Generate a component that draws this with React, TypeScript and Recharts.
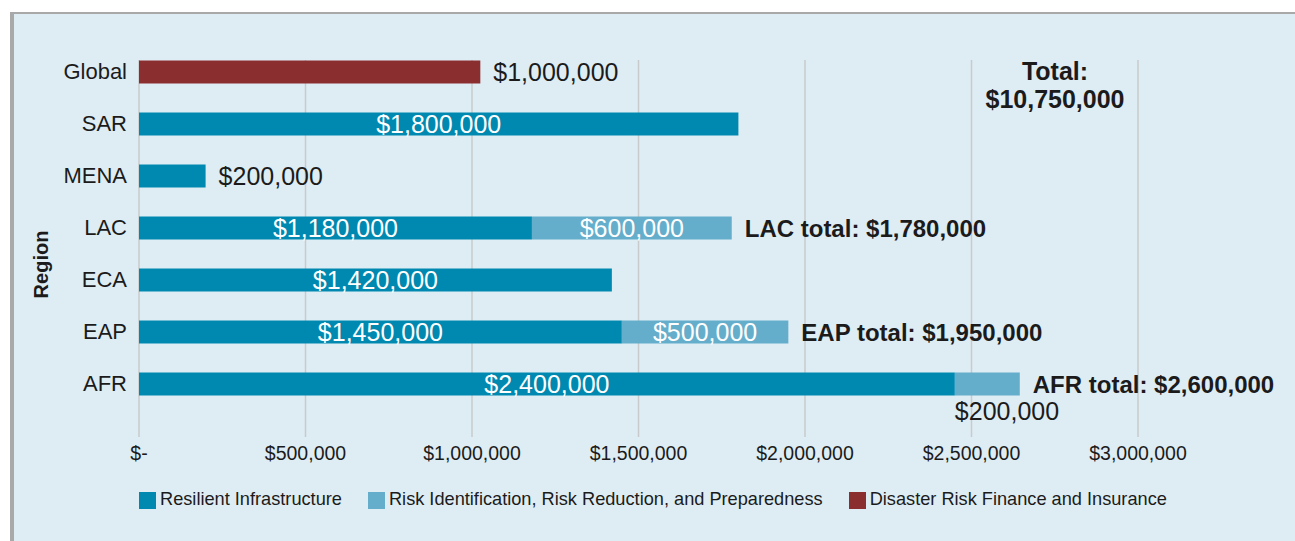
import { BarChart, Bar, XAxis, YAxis, CartesianGrid, Legend, LabelList } from "recharts";

const regions = ["Global", "SAR", "MENA", "LAC", "ECA", "EAP", "AFR"];
// bar lengths as drawn (AFR and Global bars run a little past their printed labels)
const resilient = [0, 1800000, 200000, 1180000, 1420000, 1450000, 2450000];
const riskId = [0, 0, 0, 600000, 0, 500000, 195000];
const finance = [1025000, 0, 0, 0, 0, 0, 0];

const resilientLabels = ["", "$1,800,000", "$200,000", "$1,180,000", "$1,420,000", "$1,450,000", "$2,400,000"];
const riskLabels = ["", "", "", "$600,000", "", "$500,000", "$200,000"];
const financeLabels = ["$1,000,000", "", "", "", "", "", ""];
const totalLabels = ["", "", "", "LAC total: $1,780,000", "", "EAP total: $1,950,000", "AFR total: $2,600,000"];
const grandTotal = "$10,750,000";

const seriesNames = [
  "Resilient Infrastructure",
  "Risk Identification, Risk Reduction, and Preparedness",
  "Disaster Risk Finance and Insurance",
];

const xTicks = [0, 500000, 1000000, 1500000, 2000000, 2500000, 3000000];

const RESILIENT = "#0089b0";
const RISK = "#65aecb";
const FINANCE = "#8b2e30";
const PANEL = "#deedf4";
const GRID = "#c8cacc";
const INK = "#1b1b1b";
const FONT = '"Liberation Sans", Arial, sans-serif';

const rows = regions.map((region, i) => ({
  region,
  resilient: resilient[i],
  riskId: riskId[i],
  finance: finance[i],
  riLabel: resilientLabels[i],
  riskLabel: riskLabels[i],
  financeLabel: financeLabels[i],
  totalLabel: totalLabels[i],
}));

const money = (v: number) => (v === 0 ? "$-" : "$" + v.toLocaleString("en-US"));

const box = (props: any) => props.viewBox ?? props;

// white label centred in the bar, moved to the right when the bar is too short
const InsideLabel = (props: any) => {
  const { x, y, width, height } = box(props);
  if (!props.value) return null;
  const cy = y + height / 2;
  if (width < 130) {
    return (
      <text x={x + width + 13} y={cy} dy="0.36em" fontSize={25} fill={INK}>
        {props.value}
      </text>
    );
  }
  return (
    <text x={x + width / 2} y={cy} dy="0.36em" textAnchor="middle" fontSize={25} fill="#fff">
      {props.value}
    </text>
  );
};

// short segments get their label under the bar
const RiskLabel = (props: any) => {
  const { x, y, width, height } = box(props);
  if (!props.value) return null;
  if (width < 100) {
    return (
      <text x={x} y={y + height + 15} dy="0.36em" fontSize={25} fill={INK}>
        {props.value}
      </text>
    );
  }
  return (
    <text x={x + width / 2} y={y + height / 2} dy="0.36em" textAnchor="middle" fontSize={25} fill="#fff">
      {props.value}
    </text>
  );
};

const RightLabel = (bold: boolean) => (props: any) => {
  const { x, y, width, height } = box(props);
  if (!props.value) return null;
  return (
    <text
      x={x + width + 13}
      y={y + height / 2}
      dy="0.36em"
      fontSize={bold ? 24 : 25}
      fontWeight={bold ? 700 : 400}
      fill={INK}
    >
      {props.value}
    </text>
  );
};

const RegionLabel = (props: any) => {
  const vb = props.viewBox;
  const cx = vb.x + 2;
  const cy = vb.y + vb.height / 2 + 37;
  return (
    <text
      x={cx}
      y={cy}
      transform={`rotate(-90 ${cx} ${cy})`}
      textAnchor="middle"
      dy="0.36em"
      fontSize={20}
      fontWeight={700}
      fill={INK}
    >
      Region
    </text>
  );
};

export default function App() {
  return (
    <div
      style={{
        position: "absolute",
        left: 0,
        top: 0,
        width: 1295,
        height: 541,
        background: "#fff",
        fontFamily: FONT,
        overflow: "hidden",
      }}
    >
      <div
        style={{
          position: "absolute",
          left: 10,
          top: 12,
          right: 0,
          bottom: 0,
          background: PANEL,
          borderLeft: "4px solid #a9a9a9",
          borderTop: "2px solid #a9a9a9",
        }}
      />
      <div style={{ position: "absolute", left: 0, top: 0 }}>
        <BarChart
          width={1295}
          height={541}
          data={rows}
          layout="vertical"
          margin={{ top: 45.5, right: 157, bottom: 101.5, left: 39 }}
        >
          <CartesianGrid horizontal={false} stroke={GRID} strokeWidth={1.5} y={60} height={377} />
          <XAxis
            type="number"
            domain={[0, 3000000]}
            ticks={xTicks}
            tickFormatter={money}
            axisLine={false}
            tickLine={false}
            tickSize={0}
            tickMargin={37}
            height={30}
            tick={{ fontSize: 19.5, fill: INK }}
          />
          <YAxis
            type="category"
            dataKey="region"
            width={100}
            axisLine={false}
            tickLine={false}
            tickSize={0}
            tickMargin={12}
            interval={0}
            tick={{ fontSize: 22, fill: INK }}
            label={{ content: RegionLabel }}
          />
          <Legend
            layout="horizontal"
            verticalAlign="middle"
            align="center"
            iconType="square"
            iconSize={17}
            itemSorter={(item: any) => seriesNames.indexOf(item.value)}
            wrapperStyle={{ left: 139, top: 489, width: "auto" }}
            formatter={(value: string) => (
              <span style={{ color: INK, fontSize: 18.2, marginRight: 16 }}>{value}</span>
            )}
          />
          <Bar
            dataKey="resilient"
            name={seriesNames[0]}
            stackId="a"
            fill={RESILIENT}
            barSize={23}
            isAnimationActive={false}
          >
            <LabelList dataKey="riLabel" content={InsideLabel} />
          </Bar>
          <Bar
            dataKey="riskId"
            name={seriesNames[1]}
            stackId="a"
            fill={RISK}
            barSize={23}
            isAnimationActive={false}
          >
            <LabelList dataKey="riskLabel" content={RiskLabel} />
            <LabelList dataKey="totalLabel" content={RightLabel(true)} />
          </Bar>
          <Bar
            dataKey="finance"
            name={seriesNames[2]}
            stackId="a"
            fill={FINANCE}
            barSize={23}
            isAnimationActive={false}
          >
            <LabelList dataKey="financeLabel" content={RightLabel(false)} />
          </Bar>
        </BarChart>
      </div>
      <div
        style={{
          position: "absolute",
          left: 955,
          top: 57,
          width: 200,
          textAlign: "center",
          fontSize: 25,
          fontWeight: 700,
          lineHeight: "28px",
          color: INK,
        }}
      >
        <div>Total:</div>
        <div>{grandTotal}</div>
      </div>
    </div>
  );
}
